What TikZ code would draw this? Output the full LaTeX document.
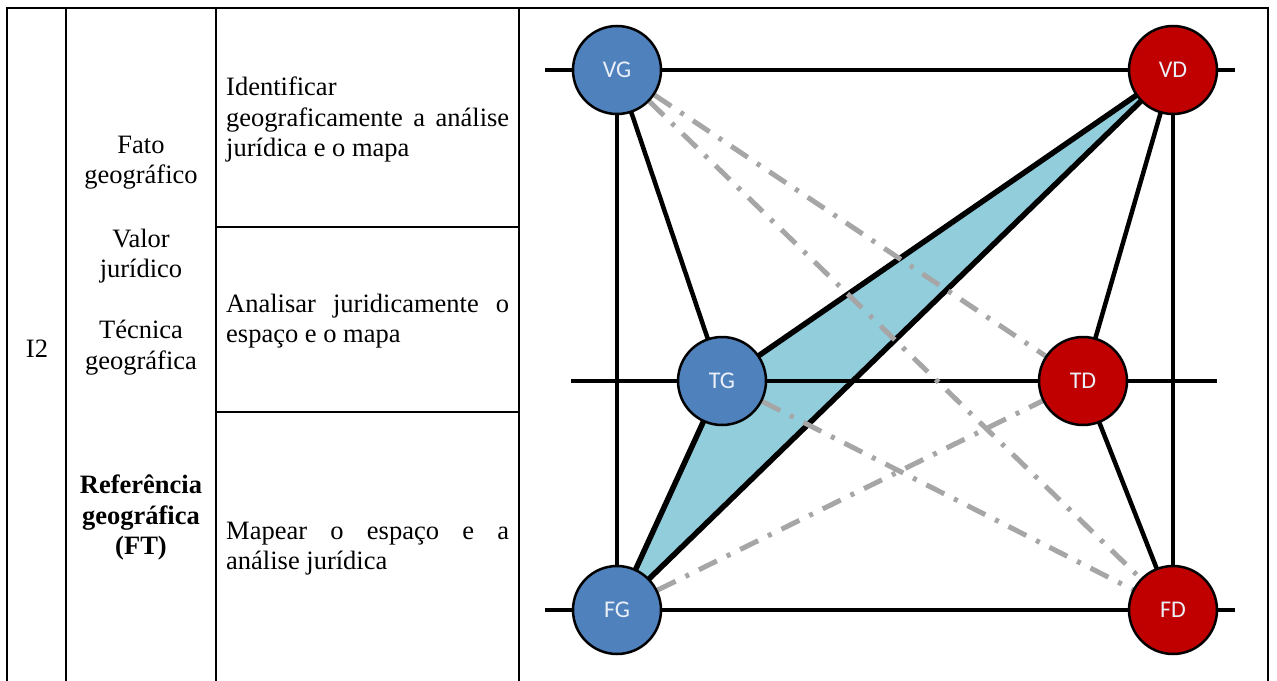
\documentclass[tikz,border=0pt]{standalone}
\usepackage{fontspec}
\setmainfont{Liberation Serif}
\newfontfamily\labfont{Carlito}
\usetikzlibrary{backgrounds}
\definecolor{nblue}{RGB}{79,129,189}
\definecolor{nred}{RGB}{192,0,0}
\definecolor{wedgefill}{RGB}{146,205,220}
\definecolor{dgray}{RGB}{166,166,166}
\definecolor{labcol}{RGB}{235,240,248}
\newcommand{\jline}[1]{\makebox[283pt][s]{#1}}
\begin{document}
\begin{tikzpicture}[x=1pt,y=-1pt,
 tbl/.style={line width=2pt,black},
 cell/.style={inner sep=0pt,font=\fontsize{26.5}{30.5}\selectfont},
 midcell/.style={cell,align=center},
 leftcell/.style={cell,align=left,anchor=west},
 gnode/.style={circle,draw=black,line width=2.5pt,minimum size=88pt,inner sep=0pt,text=labcol,font=\labfont\fontsize{24}{28}\selectfont},
 gb/.style={gnode,fill=nblue},
 gr/.style={gnode,fill=nred},
 link/.style={line width=4.5pt,black},
 wedgeline/.style={line width=5.5pt,black,line join=round},
 dd/.style={line width=5pt,dgray,dash pattern=on 20pt off 11pt on 4pt off 11pt}
]
\useasboundingbox (0,0) rectangle (1277,680);
% table
\draw[tbl] (6,8) -- (1269,8);
\foreach \xx in {7,66,216,519,1268} \draw[tbl] (\xx,8) -- (\xx,681);
\draw[tbl] (216,227) -- (519,227);
\draw[tbl] (216,412) -- (519,412);
% table texts
\node[cell] (i2) at (37,349) {I2};
\node[midcell] (fato) at (141,162.5) {Fato\\geográfico};
\node[midcell] (valor) at (141,256) {Valor\\jurídico};
\node[midcell] (tecnica) at (141,347.5) {Técnica\\geográfica};
\node[midcell,font=\fontsize{26.5}{30.5}\selectfont\bfseries] (ref) at (141,517.5) {Referência\\geográfica\\(FT)};
\node[leftcell] (c1) at (226,119.5) {Identificar\\\jline{geograficamente a análise}\\jurídica e o mapa};
\node[leftcell] (c2) at (226,321) {\jline{Analisar juridicamente o}\\espaço e o mapa};
\node[leftcell] (c3) at (226,548.5) {\jline{Mapear o espaço e a}\\análise jurídica};
% diagram nodes
\node[gb] (VG) at (617,70) {VG};
\node[gr] (VD) at (1173,70) {VD};
\node[gb] (TG) at (722,381) {TG};
\node[gr] (TD) at (1083,381) {TD};
\node[gb] (FG) at (617,610) {FG};
\node[gr] (FD) at (1173,610) {FD};
\coordinate (t0) at (545,70);
\coordinate (t1) at (1235,70);
\coordinate (m0) at (571,381);
\coordinate (m1) at (1217,381);
\coordinate (b0) at (545,610);
\coordinate (b1) at (1235,610);
\begin{pgfonlayer}{background}
\fill[wedgefill] (VD.center) -- (TG.center) -- (FG.center) -- cycle;
\draw[link] (t0) -- (VG.center) -- (VD.center) -- (t1);
\draw[link] (m0) -- (TG.center) -- (TD.center) -- (m1);
\draw[link] (b0) -- (FG.center) -- (FD.center) -- (b1);
\draw[link] (VG.center) -- (FG.center);
\draw[link] (VD.center) -- (FD.center);
\draw[link] (VG.center) -- (TG.center);
\draw[link] (VD.center) -- (TD.center);
\draw[link] (TD.center) -- (FD.center);
\draw[wedgeline] (TG.center) -- (FG.center);
\draw[wedgeline] (VD.center) -- (TG.center);
\draw[wedgeline] (VD.center) -- (FG.center);
\draw[dd] (VG) -- (TD);
\draw[dd] (VG) -- (FD);
\draw[dd] (TG) -- (FD);
\draw[dd] (FG) -- (TD);
\end{pgfonlayer}
\end{tikzpicture}
\end{document}
